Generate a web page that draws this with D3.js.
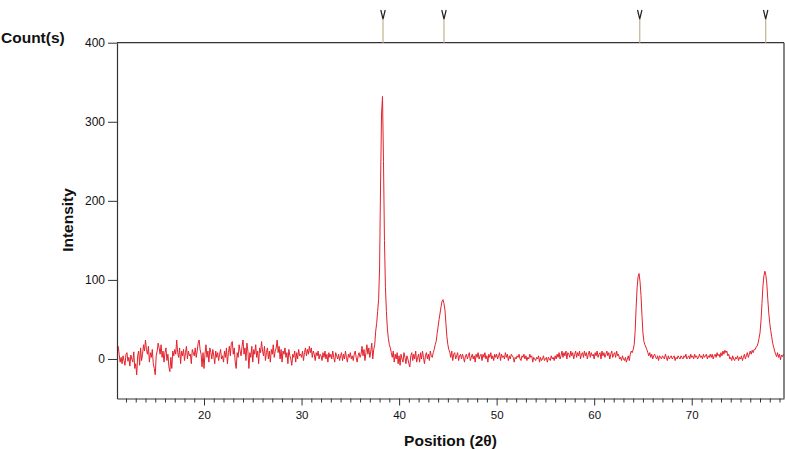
<!DOCTYPE html>
<html>
<head>
<meta charset="utf-8">
<script src="https://cdn.jsdelivr.net/npm/d3@7/dist/d3.min.js"></script>
<style>
  html, body { margin: 0; padding: 0; background: #fff; }
  svg { display: block; }
  text { font-family: "Liberation Sans", Arial, sans-serif; fill: #111; }
</style>
</head>
<body>
<svg id="chart" width="785" height="449"></svg>
<script>
// ---- Data (2θ grid starts at 11.1°, step 0.1°) ----
const angleStart = 11.1;
const angleStep = 0.1;
const counts11to20 = [14,16,6,-4,2,-6,4,-2,-8,
  6,8,-3,2,-9,5,0,-4,9,-12,
  -6,-20,4,10,-8,14,-2,6,18,10,
  24,12,6,16,-4,8,2,12,-6,-12,
  -20,4,10,20,14,6,18,2,10,-4,
  8,14,-2,6,-10,-16,2,-12,10,4,
  12,6,24,8,2,14,-6,10,4,12,
  -2,8,16,0,10,4,6,-6,12,8,
  4,14,2,10,20,24,12,6,-10,8];
const counts20to30 = [-12,6,18,2,10,-4,14,8,0,12,
  4,-6,10,2,8,-2,6,12,0,4,
  -4,10,2,14,-6,8,16,4,20,22,
  6,14,-4,-12,8,2,18,10,4,16,
  24,6,14,-2,20,10,-12,8,2,16,
  -4,12,6,18,2,10,-6,14,8,22,
  10,4,16,-2,8,14,0,10,-4,12,
  6,18,2,10,14,24,8,16,0,12,
  -4,10,6,14,2,8,-6,12,4,0,
  -8,6,2,10,-4,8,0,12,4,6];
const counts30to40 = [2,10,-2,8,14,4,12,6,16,8,
  14,2,10,6,-2,8,4,10,0,6,
  4,-2,8,2,10,0,6,-4,8,2,
  6,0,10,2,-4,8,4,0,6,-2,
  4,8,-2,6,0,10,2,-4,6,2,
  8,0,4,-2,6,10,2,-4,4,8,
  2,6,16,4,12,-2,8,18,6,14,
  2,10,20,0,12,18,35,45,60,75,
  115,220,310,332,250,150,90,60,38,26,
  18,14,8,2,10,-4,6,0,8,-6];
const counts40to50 = [4,-8,6,0,-4,8,2,-6,4,0,
  -6,-10,4,8,-2,6,0,10,-4,2,
  6,-4,8,0,10,2,-6,4,8,0,
  6,-2,10,4,2,8,12,18,22,32,
  41,50,58,66,73,75,70,62,45,28,
  18,12,8,2,10,-2,6,8,0,4,
  8,-2,4,6,0,6,2,-4,4,6,
  0,4,8,-2,2,6,0,4,-4,6,
  2,8,0,4,6,-2,6,2,8,0,
  4,-4,6,2,8,0,4,-2,6,2];
const counts50to60 = [6,0,4,8,-2,6,2,4,0,8,
  2,6,-2,4,0,6,4,2,-4,2,
  0,4,2,6,0,-2,4,2,6,0,
  4,-2,2,0,6,2,4,-4,2,0,
  -2,2,0,4,-4,2,-2,0,4,-2,
  0,2,-4,2,0,-2,4,0,2,-2,
  4,0,6,2,8,0,4,10,2,8,
  4,10,0,8,6,2,10,4,8,0,
  6,10,2,8,4,10,0,6,8,2,
  10,4,8,0,6,10,2,8,4,6];
const counts60to70 = [0,8,4,10,2,6,8,0,10,4,
  8,2,6,10,4,8,0,6,10,2,
  6,8,2,10,4,6,0,2,-2,4,
  0,-2,2,-4,0,4,-2,6,10,8,
  12,18,35,65,90,104,108,98,80,55,
  33,22,18,15,12,8,4,8,2,6,
  0,4,6,2,0,4,-2,4,2,0,
  4,2,0,6,2,-2,4,0,2,4,
  0,2,4,-2,2,0,4,2,0,4,
  2,0,4,2,6,0,2,4,0,6];
const counts70to79 = [2,4,0,6,2,4,0,2,6,2,
  4,0,6,2,4,6,0,4,2,6,
  2,6,0,4,6,2,8,4,6,2,
  8,4,10,6,11,8,10,4,6,0,
  2,-2,4,0,-2,2,0,4,-2,2,
  0,4,-2,2,6,0,4,8,2,6,
  10,6,11,8,12,12,15,16,20,26,
  33,48,70,92,105,111,106,95,75,58,
  45,36,28,20,15,10,6,3,8,2,
  6,-1,5,3,6];
const referencePeaks = [38.35, 44.6, 64.67, 77.58];
const xTicks = [20, 30, 40, 50, 60, 70];
const yTicks = [0, 100, 200, 300, 400];
const xDomain = [11.08, 79.46];
const yDomain = [-50, 400];

const allCounts = [].concat(counts11to20, counts20to30, counts30to40, counts40to50,
                            counts50to60, counts60to70, counts70to79);
const data = allCounts.map((c, i) => ({ angle: angleStart + i * angleStep, count: c }));

// ---- Layout ----
const svg = d3.select("#chart");
const padL = 117, padR = 784, padT = 42.7, padB = 398.5;

const x = d3.scaleLinear().domain(xDomain).range([padL, padR]);
const y = d3.scaleLinear().domain(yDomain).range([padB, padT]);

// Pattern line
const line = d3.line().x(d => x(d.angle)).y(d => y(d.count));
svg.append("path")
  .datum(data)
  .attr("d", line)
  .attr("fill", "none")
  .attr("stroke", "#e3222c")
  .attr("stroke-width", 1)
  .attr("stroke-linejoin", "round");

// Frame: top and right lines
svg.append("line").attr("x1", padL).attr("x2", padR).attr("y1", padT).attr("y2", padT)
  .attr("stroke", "#333").attr("stroke-width", 1.2);
svg.append("line").attr("x1", padR).attr("x2", padR).attr("y1", padT).attr("y2", padB)
  .attr("stroke", "#333").attr("stroke-width", 1.2);

// Bottom axis: minor ticks
const minorTicks = d3.range(12, 80, 1).filter(v => v % 10 !== 0);
const xMinor = d3.axisBottom(x).tickValues(minorTicks).tickSize(4).tickFormat("");
const gxm = svg.append("g").attr("transform", `translate(0,${padB})`).call(xMinor);
gxm.select(".domain").remove();
gxm.selectAll("line").attr("stroke", "#333");

const xAxis = d3.axisBottom(x).tickValues(xTicks).tickSize(7).tickPadding(5).tickSizeOuter(0);
const gx = svg.append("g").attr("transform", `translate(0,${padB})`).call(xAxis);
gx.select(".domain").attr("stroke", "#333").attr("stroke-width", 1.2);
gx.selectAll("line").attr("stroke", "#333");
gx.selectAll("text").attr("font-size", 11.5).attr("font-family", "Liberation Sans, Arial, sans-serif").attr("fill", "#111");

const yAxis = d3.axisLeft(y).tickValues(yTicks).tickSize(9).tickPadding(3).tickSizeOuter(0);
const gy = svg.append("g").attr("transform", `translate(${padL},0)`).call(yAxis);
gy.select(".domain").attr("stroke", "#333").attr("stroke-width", 1.2);
gy.selectAll("line").attr("stroke", "#333");
gy.selectAll("text").attr("font-size", 12).attr("font-family", "Liberation Sans, Arial, sans-serif").attr("fill", "#111");

// Reference peak markers
const mk = svg.append("g");
referencePeaks.forEach(p => {
  const px = x(p);
  mk.append("line").attr("x1", px).attr("x2", px).attr("y1", 19).attr("y2", padT)
    .attr("stroke", "#c9b898").attr("stroke-width", 1.3);
  mk.append("path")
    .attr("d", `M${px - 2.2},10 L${px},19 L${px + 2.2},10`)
    .attr("fill", "none").attr("stroke", "#222").attr("stroke-width", 1.2);
});

// Labels
svg.append("text").attr("x", 1).attr("y", 43)
  .attr("font-size", 15.5).attr("font-weight", "bold").text("Count(s)");
svg.append("text")
  .attr("transform", "translate(73,220) rotate(-90)")
  .attr("text-anchor", "middle")
  .attr("font-size", 15.5).attr("font-weight", "bold").text("Intensity");
svg.append("text").attr("x", (padL + padR) / 2).attr("y", 445.5)
  .attr("text-anchor", "middle")
  .attr("font-size", 15.5).attr("font-weight", "bold").text("Position (2θ)");
</script>
</body>
</html>
